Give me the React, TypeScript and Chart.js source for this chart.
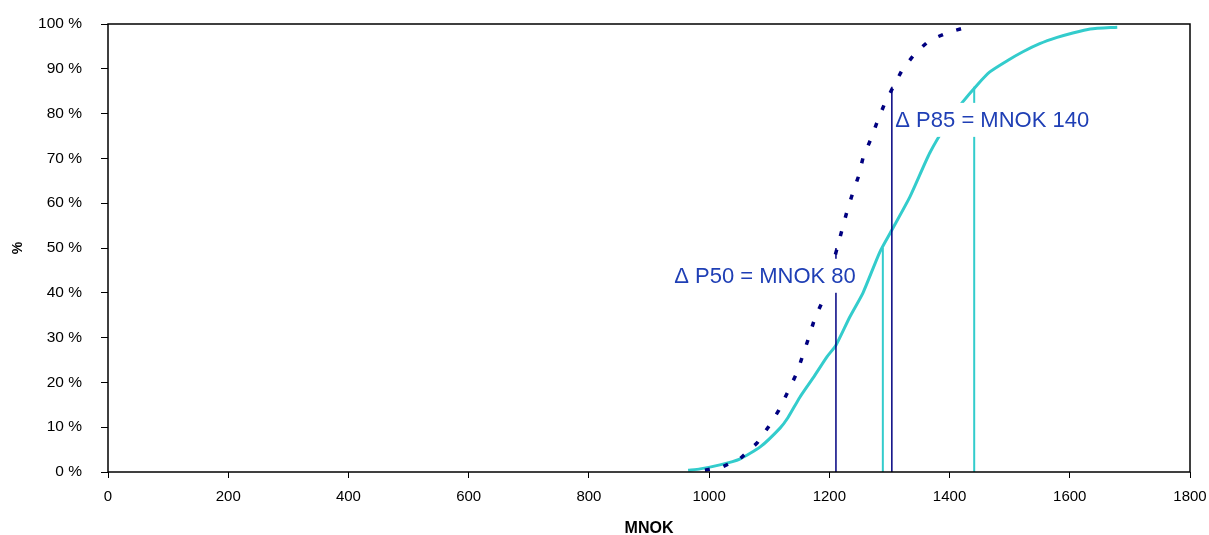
import React, { useEffect, useRef } from "react";
import { Chart, registerables } from "chart.js";

Chart.register(...registerables);

// Axis ticks
const xTicks = [0, 200, 400, 600, 800, 1000, 1200, 1400, 1600, 1800];
const yTicks = [0, 10, 20, 30, 40, 50, 60, 70, 80, 90, 100];

// Cumulative distribution (turquoise, solid)
const cyanMNOK = [965, 985, 1018, 1051, 1085, 1118, 1131, 1151, 1173, 1196, 1211, 1234, 1256, 1284, 1304, 1334, 1367, 1396, 1422, 1446, 1467, 1496, 1522, 1550, 1579, 1605, 1634, 1679];
const cyanPct = [0.4, 0.7, 1.6, 2.9, 5.6, 9.8, 12.1, 16.7, 21.0, 25.7, 28.3, 34.6, 40.0, 49.1, 54.0, 61.4, 71.2, 77.8, 82.6, 86.4, 89.3, 91.8, 93.8, 95.6, 97.0, 98.0, 98.9, 99.3];

// Cumulative distribution (navy, dotted)
const navyMNOK = [993, 1021, 1051, 1080, 1101, 1116, 1131, 1146, 1156, 1166, 1176, 1188, 1201, 1213, 1221, 1229, 1239, 1248, 1256, 1269, 1279, 1291, 1306, 1321, 1343, 1367, 1399, 1429];
const navyPct = [0.4, 1.1, 2.9, 6.5, 10.5, 13.8, 17.9, 22.1, 26.1, 30.1, 34.4, 37.9, 44.0, 50.0, 54.0, 58.0, 62.3, 65.8, 70.1, 74.3, 77.9, 81.9, 85.9, 89.7, 93.5, 96.4, 98.2, 99.3];

// Percentile markers: [navy, cyan]
const p50Values = [1211, 1289];
const p85Values = [1304, 1441];
const p50Level = 50;
const p85Level = 86;

// Annotations
const labelTexts = ["\u0394 P50 = MNOK 80", "\u0394 P85 = MNOK 140"];
const labelX = [1093, 1471];
const labelY = [43.8, 78.6];

const NAVY = "#000080";
const CYAN = "#33CCCC";
const FONT = '"Liberation Sans", Arial, sans-serif';

const toPoints = (xs: number[], ys: number[]) => xs.map((x, i) => ({ x, y: ys[i] }));
const vline = (x: number, top: number) => [
  { x, y: 0 },
  { x, y: top },
];

const overlayPlugin = {
  id: "overlay",
  afterDatasetsDraw(chart: any) {
    const { ctx, chartArea: a, scales } = chart;
    ctx.save();
    ctx.font = `22px ${FONT}`;
    ctx.textAlign = "center";
    ctx.textBaseline = "middle";
    labelTexts.forEach((t, i) => {
      const x = scales.x.getPixelForValue(labelX[i]);
      const y = scales.y.getPixelForValue(labelY[i]);
      const w = ctx.measureText(t).width;
      ctx.fillStyle = "#ffffff";
      ctx.fillRect(x - w / 2 - 2, y - 17, w + 4, 34);
      ctx.fillStyle = "#1F3FB5";
      ctx.fillText(t, x, y + 1);
    });
    ctx.strokeStyle = "#000000";
    ctx.lineWidth = 1.5;
    ctx.strokeRect(a.left, a.top, a.right - a.left, a.bottom - a.top);
    ctx.restore();
  },
};

export default function App() {
  const ref = useRef<HTMLCanvasElement | null>(null);

  useEffect(() => {
    document.body.style.margin = "0";
    const canvas = ref.current;
    if (!canvas) return;
    const chart = new Chart(canvas, {
      type: "line",
      data: {
        datasets: [
          { data: vline(p50Values[0], p50Level), borderColor: NAVY, borderWidth: 1.5, pointRadius: 0, order: 0 },
          { data: vline(p85Values[0], p85Level), borderColor: NAVY, borderWidth: 1.5, pointRadius: 0, order: 0 },
          { data: vline(p50Values[1], p50Level), borderColor: CYAN, borderWidth: 2, pointRadius: 0, order: 0 },
          { data: vline(p85Values[1], p85Level), borderColor: CYAN, borderWidth: 2, pointRadius: 0, order: 0 },
          {
            data: toPoints(navyMNOK, navyPct),
            borderColor: NAVY,
            borderWidth: 3.5,
            borderDash: [5, 14],
            pointRadius: 0,
            tension: 0,
            order: 1,
          },
          {
            data: toPoints(cyanMNOK, cyanPct),
            borderColor: CYAN,
            borderWidth: 3,
            pointRadius: 0,
            tension: 0.2,
            order: 2,
          },
        ],
      },
      options: {
        responsive: false,
        animation: false,
        events: [],
        layout: { padding: { top: 24, right: 19, left: 0, bottom: 0 } },
        plugins: { legend: { display: false }, tooltip: { enabled: false } },
        scales: {
          x: {
            type: "linear",
            min: xTicks[0],
            max: xTicks[xTicks.length - 1],
            afterBuildTicks: (s: any) => {
              s.ticks = xTicks.map((v) => ({ value: v }));
            },
            afterFit: (s: any) => {
              s.height = 63;
              s.paddingLeft = 0;
              s.paddingRight = 0;
            },
            border: { display: false },
            grid: { drawOnChartArea: false, drawTicks: true, tickLength: 6, color: "#000" },
            ticks: {
              color: "#000",
              font: { family: FONT, size: 15 },
              padding: 10,
              maxRotation: 0,
              callback: (v: any) => String(v),
            },
            title: {
              display: true,
              text: "MNOK",
              color: "#000",
              font: { family: FONT, size: 16, weight: "bold", lineHeight: 0.8 },
              padding: { top: 0, bottom: 0 },
            },
          },
          y: {
            type: "linear",
            min: yTicks[0],
            max: yTicks[yTicks.length - 1],
            afterBuildTicks: (s: any) => {
              s.ticks = yTicks.map((v) => ({ value: v }));
            },
            afterFit: (s: any) => {
              s.width = 108;
              s.paddingTop = 0;
              s.paddingBottom = 0;
            },
            border: { display: false },
            grid: { drawOnChartArea: false, drawTicks: true, tickLength: 7, color: "#000" },
            ticks: {
              color: "#000",
              font: { family: FONT, size: 15.5 },
              padding: 19,
              callback: (v: any) => `${v} %`,
            },
            title: {
              display: true,
              text: "%",
              color: "#000",
              font: { family: FONT, size: 14, weight: "bold" },
              padding: { top: 10, bottom: 0 },
            },
          },
        },
      },
      plugins: [overlayPlugin],
    } as any);
    return () => chart.destroy();
  }, []);

  return (
    <div style={{ position: "absolute", left: 0, top: 0, width: 1209, height: 535, background: "#fff" }}>
      <canvas ref={ref} width={1209} height={535} />
    </div>
  );
}
